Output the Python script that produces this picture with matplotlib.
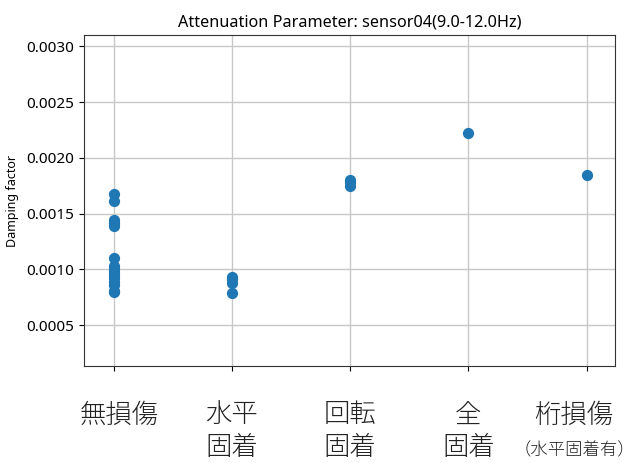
import matplotlib
matplotlib.use("Agg")
import matplotlib.pyplot as plt
import matplotlib.transforms as mtransforms

plt.rcParams['font.family'] = ['Noto Sans', 'Noto Sans CJK JP', 'DejaVu Sans']

# damping factor per condition
categories = ["無損傷", "水平\n固着", "回転\n固着", "全\n固着", "桁損傷"]
sub_label = "（水平固着有）"
no_damage = [0.00168, 0.00161, 0.00144, 0.00142, 0.00139, 0.00110, 0.00103,
             0.00100, 0.00098, 0.00095, 0.00092, 0.00089, 0.00086, 0.00081, 0.00080]
horiz_fixed = [0.00093, 0.00091, 0.00088, 0.00079]
rot_fixed = [0.00180, 0.00178, 0.00175]
all_fixed = [0.002225]
girder_damage = [0.00185]
groups = [no_damage, horiz_fixed, rot_fixed, all_fixed, girder_damage]
yticks = [0.0005, 0.0010, 0.0015, 0.0020, 0.0025, 0.0030]

fig = plt.figure(figsize=(6.36, 4.63), dpi=100)
ax = fig.add_axes([0.132, 0.2095, 0.835, 0.7145])

for i, vals in enumerate(groups):
    ax.scatter([i] * len(vals), vals, s=50, color="#1f77b4", zorder=3)

ax.set_xlim(-0.25, 4.24)
ax.set_ylim(0.000133, 0.0031)
ax.set_yticks(yticks)
ax.set_yticklabels([f"{v:.4f}" for v in yticks], fontsize=11)
ax.set_xticks(range(len(categories)))
ax.set_xticklabels(categories, fontsize=19, color="#222222", linespacing=1.2,
                   fontweight="light")
ax.tick_params(axis="x", pad=22)
# first and last labels sit a little off their ticks in the original
labels = ax.get_xticklabels()
for lbl, dx in [(labels[0], 0.06), (labels[-1], -0.13)]:
    lbl.set_transform(lbl.get_transform() + mtransforms.ScaledTranslation(dx, 0, fig.dpi_scale_trans))
ax.grid(True, color="#c8c8c8", linewidth=1)
ax.set_axisbelow(True)
for sp in ax.spines.values():
    sp.set_color("#333333")

trans = mtransforms.blended_transform_factory(ax.transData, ax.transAxes)
ax.text(3.9, -0.255, sub_label, transform=trans, ha="center", va="center",
        fontsize=12.5, color="#222222", fontweight="light")

ax.set_ylabel("Damping factor", fontsize=9, labelpad=5)
ax.set_title("Attenuation Parameter: sensor04(9.0-12.0Hz)", fontsize=11.7)

fig.savefig("out.png", dpi=100)
